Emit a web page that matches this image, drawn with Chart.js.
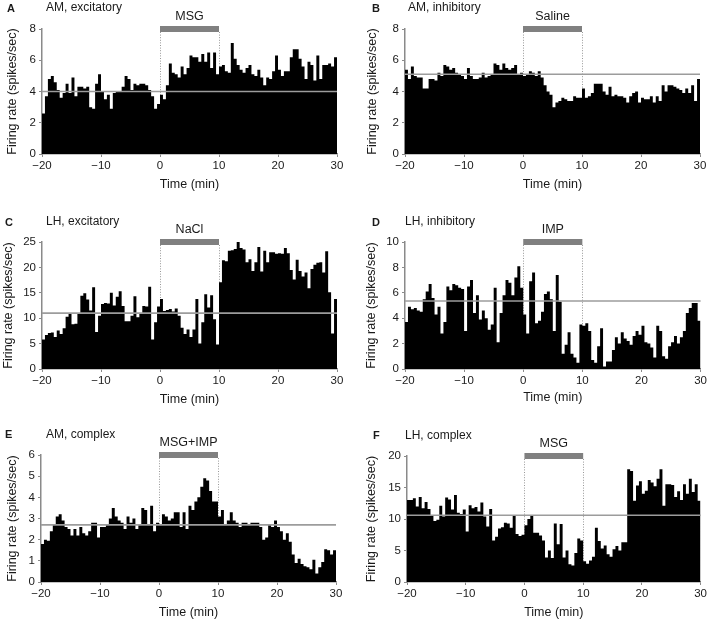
<!DOCTYPE html>
<html>
<head>
<meta charset="utf-8">
<script src="https://cdn.jsdelivr.net/npm/chart.js@4.4.1/dist/chart.umd.min.js"></script>
<style>
  html,body{margin:0;padding:0;background:#fff;}
  #fig{position:relative;width:709px;height:622px;overflow:hidden;font-family:"Liberation Sans",Arial,sans-serif;color:#1a1a1a;}
  #fig canvas{position:absolute;}
  .lt{position:absolute;font-weight:bold;font-size:11px;line-height:12px;}
  .tt{position:absolute;font-size:12px;line-height:14px;white-space:nowrap;}
</style>
</head>
<body>
<div id="fig"></div>
<script>
// Peri-stimulus histograms, 0.5-min bins from -20 to 30 min (100 bins per panel)
var BIN_START = -20, BIN_WIDTH = 0.5;
var X_TICKS = [-20, -10, 0, 10, 20, 30];

var A_RATE = [2.6,3.7,4.8,5.0,4.6,4.1,3.6,3.9,4.5,3.9, 4.9,3.7,4.3,4.3,4.2,4.3,3.0,2.9,4.5,5.1,
  4.0,3.5,3.8,2.9,3.9,4.0,4.0,4.3,5.0,4.8, 4.1,4.5,4.4,4.5,4.5,4.4,4.1,3.7,2.9,3.2,
  3.8,3.5,4.4,5.8,5.2,5.1,4.9,5.6,5.1,5.5, 6.3,6.2,6.2,5.9,6.4,5.9,6.5,5.5,6.5,5.1,
  5.6,5.7,5.3,5.2,7.1,6.1,5.7,5.4,5.2,5.5, 5.7,5.1,5.0,5.4,4.9,4.4,4.9,4.8,5.3,6.3,
  5.4,5.0,5.3,5.3,6.2,6.7,6.7,6.1,5.6,4.8, 5.9,5.7,4.7,6.3,4.8,5.7,5.7,5.8,5.6,6.2];
var B_RATE = [5.4,4.8,5.6,5.0,4.9,4.9,4.2,4.2,4.8,4.8, 4.7,5.2,5.0,5.7,5.6,5.4,5.5,5.2,5.1,5.0,
  4.8,5.5,5.0,4.8,4.8,4.9,5.2,4.9,5.0,5.1, 5.8,5.7,5.4,5.8,5.5,5.4,5.5,5.7,5.1,5.2,
  5.0,5.1,5.3,5.2,5.0,5.3,4.9,4.4,4.0,3.8, 3.0,3.3,3.4,3.6,3.5,3.4,3.4,3.7,3.6,3.6,
  4.2,3.6,3.7,3.9,4.5,4.5,4.5,4.0,3.8,4.3, 3.7,3.8,3.7,3.7,3.6,3.3,3.7,3.9,4.0,3.3,
  3.6,3.5,3.5,3.7,3.3,3.7,3.4,4.4,4.0,4.4, 4.4,4.3,4.2,4.1,3.9,4.2,3.9,4.4,3.4,4.8];
var C_RATE = [5.8,6.7,7.1,7.2,6.3,7.6,6.9,8.0,10.3,11.0, 8.8,8.9,10.9,14.4,14.9,13.7,11.5,16.1,7.3,10.5,
  12.8,13.0,12.9,15.0,12.5,14.2,15.3,12.4,9.4,9.4, 10.5,14.3,10.2,10.9,12.4,12.3,16.2,5.8,9.2,12.3,
  13.8,11.4,11.6,11.8,11.3,11.9,10.5,8.1,6.9,7.8, 6.3,7.8,13.8,5.0,9.2,14.7,12.1,14.5,9.8,4.8,
  17.1,21.4,21.2,23.3,23.4,23.6,25.0,23.8,23.5,21.0, 21.6,19.3,21.0,24.0,19.2,23.3,21.0,23.0,23.0,22.7,
  22.8,22.7,23.8,22.8,19.5,17.6,21.5,19.3,18.2,19.0, 15.9,19.7,20.5,20.9,21.0,19.0,23.2,15.1,7.0,13.8];
var D_RATE = [3.7,4.9,4.7,4.8,4.6,4.5,5.5,6.1,6.7,5.6, 4.3,4.9,2.8,3.7,6.5,6.2,6.7,6.6,6.4,6.3,
  3.0,6.5,7.0,4.4,5.8,3.9,4.6,4.0,3.1,3.5, 6.4,2.1,4.4,5.8,7.0,6.8,5.8,7.2,8.1,6.4,
  4.3,2.8,6.9,7.6,3.6,3.8,4.5,5.9,6.1,5.5, 3.0,7.4,5.3,1.2,1.9,2.9,1.2,0.9,0.5,3.5,
  3.4,3.6,3.0,0.7,0.5,1.8,3.2,0.2,0.6,0.6, 1.5,2.5,2.0,2.9,2.4,2.2,1.9,2.6,3.0,2.7,
  3.4,2.1,2.0,1.7,0.9,3.4,3.0,1.0,0.8,1.8, 2.1,2.6,2.0,2.5,3.0,4.4,4.8,5.2,5.2,3.8];
var E_RATE = [1.8,2.0,1.95,2.4,2.7,3.1,3.2,2.9,2.6,2.5, 2.2,2.5,2.2,2.6,2.3,2.2,2.4,2.8,2.8,2.1,
  2.6,2.6,2.7,3.0,3.5,3.1,2.9,2.8,2.5,3.1, 2.8,3.0,2.5,2.7,3.5,3.4,2.7,3.6,2.4,2.8,
  2.7,3.2,3.1,2.9,3.0,3.3,3.3,2.6,3.3,2.5, 3.6,3.4,3.8,4.0,4.5,4.9,4.8,4.3,3.8,3.8,
  3.1,3.4,2.7,2.9,3.3,2.9,2.8,2.6,2.8,2.8, 2.7,2.8,2.8,2.8,2.6,2.0,2.1,2.7,2.6,2.9,
  2.6,2.4,2.0,2.3,1.9,1.3,0.9,1.1,0.85,0.75, 0.7,0.6,1.05,0.4,0.7,0.95,1.55,1.5,1.3,1.5];
var F_RATE = [13.0,13.0,13.3,12.0,13.5,11.7,12.7,11.6,10.6,9.7, 9.9,12.1,10.4,13.4,13.1,11.5,13.8,11.0,10.8,11.5,
  8.0,12.2,11.7,11.9,11.2,12.6,10.4,8.8,11.6,6.6, 7.2,8.5,8.7,9.4,9.3,8.6,10.5,7.6,7.3,7.5,
  9.0,10.0,10.5,7.8,7.8,7.4,6.6,3.9,5.0,3.8, 9.3,6.0,9.2,3.9,5.0,2.8,2.6,4.6,6.9,6.6,
  3.3,2.9,3.4,4.0,8.6,6.5,5.3,5.8,4.4,4.0, 5.2,5.7,5.0,6.3,6.3,17.9,17.6,12.9,15.3,16.0,
  14.0,14.5,16.2,15.8,15.2,16.4,17.9,12.1,15.5,15.5, 15.4,13.5,14.4,13.0,15.5,14.0,16.4,14.3,15.5,12.9];

var RATES     = [A_RATE, B_RATE, C_RATE, D_RATE, E_RATE, F_RATE];
var LETTERS   = ["A", "B", "C", "D", "E", "F"];
var TITLES    = ["AM, excitatory", "AM, inhibitory", "LH, excitatory", "LH, inhibitory", "AM, complex", "LH, complex"];
var STIMULI   = ["MSG", "Saline", "NaCl", "IMP", "MSG+IMP", "MSG"];
var STIM_ON   = [0, 0, 0, 0, 0, 0];
var STIM_OFF  = [10, 10, 10, 10, 10, 10];
var BASELINES = [4.0, 5.1, 11.0, 5.35, 2.7, 10.6];
var Y_MAX     = [8, 8, 25, 10, 6, 20];
var Y_STEP    = [2, 2, 5, 2, 1, 5];

// placement (px): canvas box, plot area, axis-title centres, letter/title
var LAYOUT = [
  {cv:[0,0,354,200],     area:[42,29,337,154],   xt:185, yt:13,  lx:7,   ly:8,   tx:46,  ty:7},
  {cv:[360,0,349,200],   area:[405,29,700,154],  xt:185, yt:373, lx:372, ly:8,   tx:408, ty:7},
  {cv:[0,200,354,214],   area:[42,242,337,369],  xt:400, yt:9,   lx:5,   ly:222, tx:46,  ty:221},
  {cv:[360,200,349,214], area:[405,242,701,369], xt:398, yt:372, lx:372, ly:222, tx:405, ty:221},
  {cv:[0,413,354,209],   area:[41,455,336,582],  xt:613, yt:13,  lx:5,   ly:434, tx:46,  ty:434},
  {cv:[360,413,349,209], area:[407,456,702,582], xt:613, yt:372, lx:373, ly:435, tx:405, ty:435}
];

var INK = "#1a1a1a", AXIS = "#8a8a8a";
var FONT = '"Liberation Sans", Arial, sans-serif';

function fmtMinus(v){ return v < 0 ? "\u2212" + Math.abs(v) : String(v); }

// stimulus bar + dotted onset/offset lines + baseline
var stimPlugin = {
  id: "stim",
  beforeDatasetsDraw: function(chart, args, o){
    var x = chart.scales.x, a = chart.chartArea, c = chart.ctx;
    c.save();
    c.strokeStyle = "#8c8c8c"; c.lineWidth = 0.9; c.setLineDash([1, 1.6]);
    [o.on, o.off].forEach(function(v){
      var px = Math.round(x.getPixelForValue(v)) + 0.5;
      c.beginPath(); c.moveTo(px, a.top + 3); c.lineTo(px, a.bottom); c.stroke();
    });
    c.restore();
  },
  afterDatasetsDraw: function(chart, args, o){
    var x = chart.scales.x, y = chart.scales.y, a = chart.chartArea, c = chart.ctx;
    c.save();
    var py = y.getPixelForValue(o.base);
    c.strokeStyle = "#9c9c9c"; c.lineWidth = 1.6;
    c.beginPath(); c.moveTo(a.left, py); c.lineTo(a.right, py); c.stroke();
    var x0 = x.getPixelForValue(o.on), x1 = x.getPixelForValue(o.off);
    c.fillStyle = "#808080"; c.fillRect(x0, a.top - 3, x1 - x0, 6);
    c.fillStyle = INK; c.font = "12.5px " + FONT;
    c.textAlign = "center"; c.textBaseline = "middle";
    c.fillText(o.label, (x0 + x1) / 2, a.top - 12);
    c.restore();
  }
};

function makePanel(i){
  var L = LAYOUT[i], fig = document.getElementById("fig");
  var cv = document.createElement("canvas");
  cv.width = L.cv[2]; cv.height = L.cv[3];
  cv.style.left = L.cv[0] + "px"; cv.style.top = L.cv[1] + "px";
  cv.style.width = L.cv[2] + "px"; cv.style.height = L.cv[3] + "px";
  fig.appendChild(cv);

  var lt = document.createElement("div"); lt.className = "lt";
  lt.style.left = L.lx + "px"; lt.style.top = (L.ly - 6) + "px"; lt.textContent = LETTERS[i];
  fig.appendChild(lt);
  var tt = document.createElement("div"); tt.className = "tt";
  tt.style.left = L.tx + "px"; tt.style.top = (L.ty - 7) + "px"; tt.textContent = TITLES[i];
  fig.appendChild(tt);

  // histogram as a filled step line (bin start -> value), closing edge at the last bin end
  var r = RATES[i];
  var pts = r.map(function(v, k){ return {x: BIN_START + k * BIN_WIDTH, y: v}; });
  pts.push({x: BIN_START + r.length * BIN_WIDTH, y: r[r.length - 1]});

  var yW = L.area[0] - L.cv[0];
  var xH = L.cv[1] + L.cv[3] - L.area[3];
  var cvBottom = L.cv[1] + L.cv[3];

  new Chart(cv, {
    type: "line",
    data: { datasets: [{ data: pts, stepped: "before", fill: "origin",
      backgroundColor: "#000", borderColor: "#000", borderWidth: 0, pointRadius: 0 }] },
    plugins: [stimPlugin],
    options: {
      responsive: false, animation: false, events: [],
      layout: { padding: { left: 0, bottom: 0, top: L.area[1] - L.cv[1], right: L.cv[0] + L.cv[2] - L.area[2] } },
      plugins: {
        legend: { display: false }, tooltip: { enabled: false },
        stim: { label: STIMULI[i], on: STIM_ON[i], off: STIM_OFF[i], base: BASELINES[i] }
      },
      scales: {
        x: {
          type: "linear", min: X_TICKS[0], max: X_TICKS[X_TICKS.length - 1],
          afterBuildTicks: function(s){ s.ticks = X_TICKS.map(function(v){ return {value: v}; }); },
          ticks: { color: INK, font: {family: FONT, size: 11.5}, padding: 2, maxRotation: 0,
            callback: function(v){ return fmtMinus(v); } },
          grid: { drawOnChartArea: false, color: AXIS, tickLength: 3, lineWidth: 1 },
          border: { color: AXIS, width: 1.5 },
          title: { display: true, text: "Time (min)", color: INK, font: {family: FONT, size: 12.5},
            padding: { top: 0, bottom: cvBottom - L.xt - 7.5 } },
          afterFit: function(s){ s.height = xH; }
        },
        y: {
          min: 0, max: Y_MAX[i],
          ticks: { stepSize: Y_STEP[i], color: INK, font: {family: FONT, size: 11.5}, padding: 3 },
          grid: { drawOnChartArea: false, color: AXIS, tickLength: 3, lineWidth: 1 },
          border: { color: AXIS, width: 1.5 },
          title: { display: true, text: "Firing rate (spikes/sec)", color: INK, font: {family: FONT, size: 12.5},
            padding: { top: L.yt - L.cv[0] - 7.5, bottom: 0 } },
          afterFit: function(s){ s.width = yW; }
        }
      }
    }
  });
}

for (var i = 0; i < 6; i++) makePanel(i);
</script>
</body>
</html>
